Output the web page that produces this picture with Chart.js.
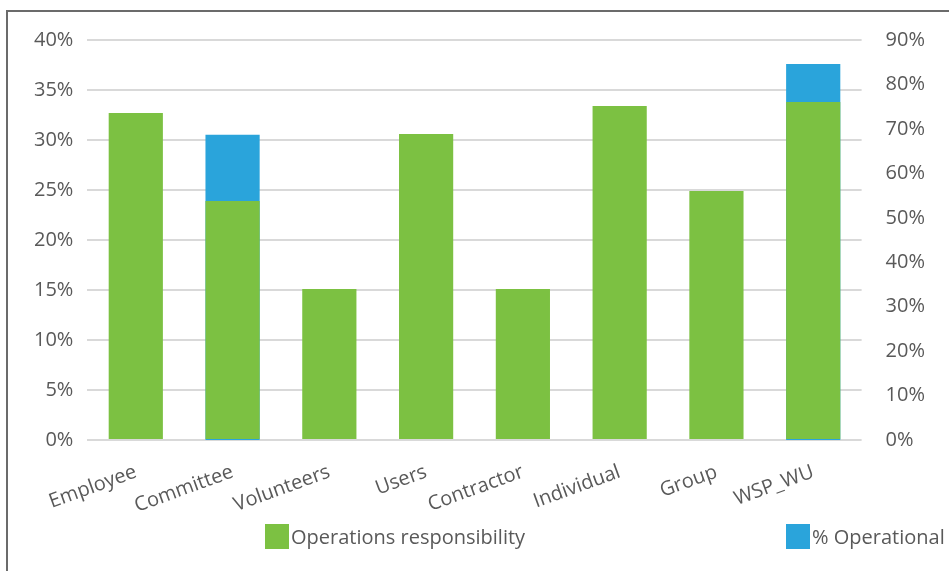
<!DOCTYPE html>
<html>
<head>
<meta charset="utf-8">
<script src="https://cdn.jsdelivr.net/npm/chart.js@4/dist/chart.umd.min.js"></script>
<style>
  html, body { margin: 0; padding: 0; background: #fff; overflow: hidden; }
  #frame { position: absolute; left: 6px; top: 10px; width: 1000px; height: 620px;
           border-left: 2px solid #6b6b6b; border-top: 2px solid #6b6b6b; }
  #wrap { position: absolute; left: 8px; top: 12px; width: 941px; height: 518px; }
  #legend { position: absolute; top: 523px; left: 0; width: 949px; height: 26px;
            font-family: 'Open Sans', 'Noto Sans', sans-serif; font-size: 20px; color: #595959; }
  .item { position: absolute; top: 0; display: flex; align-items: center; white-space: nowrap; }
  .box { width: 24px; height: 25px; margin-right: 2px; }
</style>
</head>
<body>
<div id="frame"></div>
<div id="wrap"><canvas id="c"></canvas></div>
<div id="legend"></div>
<script>
const categories = ["Employee", "Committee", "Volunteers", "Users", "Contractor", "Individual", "Group", "WSP_WU"];
const operationsResponsibility = [32.7, 23.9, 15.1, 30.6, 15.1, 33.4, 24.9, 33.8];   // left axis, %
const percentOperational = [null, 68.7, null, null, null, null, null, 84.6];        // right axis, % (hidden values unreadable)
const leftTicks = [0, 5, 10, 15, 20, 25, 30, 35, 40];
const rightTicks = [0, 10, 20, 30, 40, 50, 60, 70, 80, 90];

const textColor = '#595959';
const font = { family: "'Open Sans', 'Noto Sans', sans-serif", size: 20 };

const chart = new Chart(document.getElementById('c'), {
  type: 'bar',
  data: {
    labels: categories,
    datasets: [
      { label: 'Operations responsibility', data: operationsResponsibility, yAxisID: 'y',
        backgroundColor: '#7cc142', grouped: false, barPercentage: 0.56, categoryPercentage: 1.0 },
      { label: '% Operational', data: percentOperational, yAxisID: 'y1',
        backgroundColor: '#2aa4db', grouped: false, barPercentage: 0.56, categoryPercentage: 1.0 }
    ]
  },
  options: {
    responsive: true,
    maintainAspectRatio: false,
    animation: false,
    layout: { padding: { left: 12, right: 8, top: 9, bottom: 0 } },
    plugins: {
      tooltip: { enabled: false },
      legend: { display: false }
    },
    scales: {
      x: {
        grid: { display: false },
        border: { display: false },
        ticks: { color: textColor, font: font, minRotation: 20, maxRotation: 20, padding: 12 }
      },
      y: {
        position: 'left',
        min: 0, max: 40,
        afterBuildTicks: (s) => { s.ticks = leftTicks.map(v => ({ value: v })); },
        grid: { color: '#d9d9d9', lineWidth: 2, drawTicks: false },
        border: { display: false },
        ticks: { color: textColor, font: font, padding: 14, autoSkip: false, callback: (v) => v + '%' }
      },
      y1: {
        position: 'right',
        min: 0, max: 90,
        afterBuildTicks: (s) => { s.ticks = rightTicks.map(v => ({ value: v })); },
        grid: { display: false },
        border: { display: false },
        ticks: { color: textColor, font: font, padding: 16, autoSkip: false, callback: (v) => v + '%' }
      }
    }
  }
});

// HTML legend built from the chart's datasets
const legendPos = [265, 786];
const legend = document.getElementById('legend');
chart.data.datasets.forEach((ds, i) => {
  const item = document.createElement('div');
  item.className = 'item';
  item.style.left = legendPos[i] + 'px';
  const box = document.createElement('span');
  box.className = 'box';
  box.style.background = ds.backgroundColor;
  const txt = document.createElement('span');
  txt.textContent = ds.label;
  item.appendChild(box); item.appendChild(txt);
  legend.appendChild(item);
});
</script>
</body>
</html>
